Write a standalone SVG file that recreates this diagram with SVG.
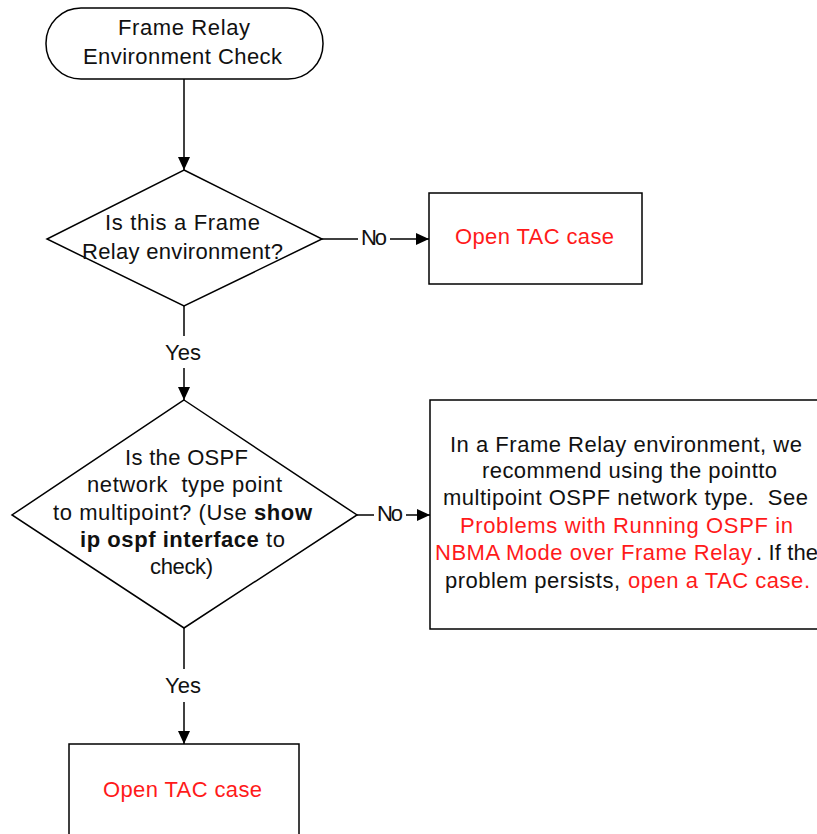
<svg xmlns="http://www.w3.org/2000/svg" width="817" height="834" viewBox="0 0 817 834">
<style>
  .shape { fill: #fff; stroke: #000; stroke-width: 1.5; }
  .conn { fill: none; stroke: #000; stroke-width: 1.5; }
  text { font-family: "Liberation Sans", Arial, sans-serif; font-size: 22px; fill: #111; }
  .red { fill: #ff1a1a; }
  .b { font-weight: bold; }
</style>
<defs>
  <marker id="arr" markerUnits="userSpaceOnUse" markerWidth="14" markerHeight="13" refX="13" refY="6" orient="auto">
    <path d="M0,0 L13,6 L0,12 z" fill="#000"/>
  </marker>
</defs>
<rect width="817" height="834" fill="#fff"/>

<g id="connectors">
  <line class="conn" x1="184" y1="79" x2="184" y2="170" marker-end="url(#arr)"/>
  <line class="conn" x1="322" y1="239" x2="358" y2="239"/>
  <line class="conn" x1="390" y1="239" x2="429" y2="239" marker-end="url(#arr)"/>
  <text x="361" y="245" textLength="26">No</text>
  <line class="conn" x1="184" y1="306" x2="184" y2="336"/>
  <line class="conn" x1="184" y1="368" x2="184" y2="400" marker-end="url(#arr)"/>
  <text x="165" y="360" textLength="36">Yes</text>
  <line class="conn" x1="357" y1="515" x2="374" y2="515"/>
  <line class="conn" x1="406" y1="515" x2="430" y2="515" marker-end="url(#arr)"/>
  <text x="377" y="521" textLength="26">No</text>
  <line class="conn" x1="184" y1="628" x2="184" y2="669"/>
  <line class="conn" x1="184" y1="702" x2="184" y2="744" marker-end="url(#arr)"/>
  <text x="165" y="693" textLength="36">Yes</text>
</g>

<g id="start">
  <rect class="shape" x="46" y="8" width="277" height="71" rx="35" ry="35"/>
  <text x="118" y="35" textLength="132">Frame Relay</text>
  <text x="83" y="64" textLength="199">Environment Check</text>
</g>

<g id="decision1">
  <polygon class="shape" points="184,170 322,239 184,306 47,239"/>
  <text x="105" y="230" textLength="155">Is this a Frame</text>
  <text x="82" y="259" textLength="201">Relay environment?</text>
</g>

<g id="tac1">
  <rect class="shape" x="429" y="193" width="213" height="91"/>
  <text class="red" x="455" y="244" textLength="159">Open TAC case</text>
</g>

<g id="decision2">
  <polygon class="shape" points="184,400 357,515 184,628 12,515"/>
  <text x="125" y="465" textLength="123">Is the OSPF</text>
  <text x="87" y="492" textLength="195" xml:space="preserve">network  type point</text>
  <text x="53" y="520" textLength="259" xml:space="preserve">to multipoint? (Use <tspan class="b">show</tspan></text>
  <text x="80" y="547" textLength="205" xml:space="preserve"><tspan class="b">ip ospf interface</tspan> to</text>
  <text x="150" y="574" textLength="63">check)</text>
</g>

<g id="recommend">
  <rect class="shape" x="430" y="400" width="400" height="229"/>
  <text x="450" y="452" textLength="352">In a Frame Relay environment, we</text>
  <text x="482" y="478" textLength="295">recommend using the pointto</text>
  <text x="443" y="505" textLength="365" xml:space="preserve">multipoint OSPF network type.  See</text>
  <text class="red" x="460" y="533" textLength="333">Problems with Running OSPF in</text>
  <text class="red" x="435" y="560" textLength="317">NBMA Mode over Frame Relay</text>
  <text x="756" y="560" textLength="62">. If the</text>
  <text x="445" y="588" textLength="175">problem persists,</text>
  <text class="red" x="628" y="588" textLength="182">open a TAC case.</text>
</g>

<g id="tac2">
  <rect class="shape" x="69" y="744" width="230" height="110"/>
  <text class="red" x="103" y="797" textLength="159">Open TAC case</text>
</g>
</svg>
